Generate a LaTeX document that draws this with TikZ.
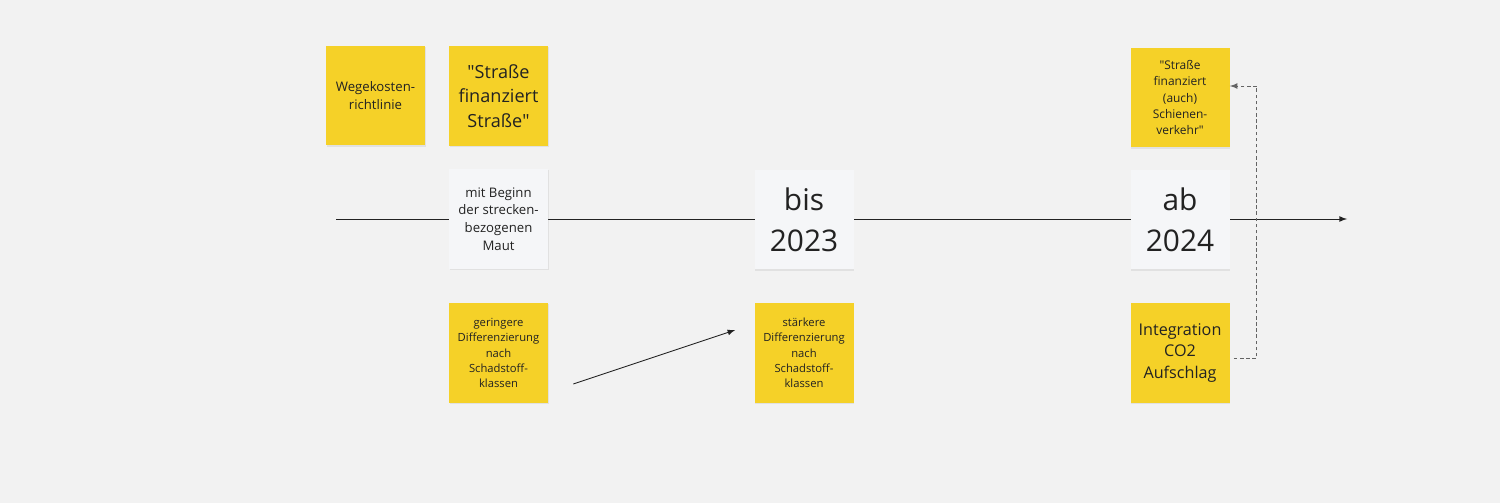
\documentclass[tikz,border=0pt]{standalone}
\usepackage{fontspec}
\setmainfont{Open Sans}
\usetikzlibrary{shadows}

\definecolor{board}{HTML}{F2F2F2}
\definecolor{sticky}{HTML}{F5D128}
\definecolor{card}{HTML}{F5F6F8}
\definecolor{ink}{HTML}{222222}

\begin{document}
\begin{tikzpicture}[x=0.02cm,y=-0.02cm,
  note/.style={fill=sticky,minimum width=1.98cm,minimum height=2cm,inner sep=0pt,
    align=center,text=ink,drop shadow={shadow xshift=0.4pt,shadow yshift=-0.6pt,opacity=0.15}},
  datecard/.style={note,fill=card},
  flow/.style={draw=ink,line width=0.5pt,-latex},
  dashlink/.style={draw=ink!70,line width=0.5pt,dashed,dash pattern=on 2pt off 1.5pt,-latex}]

\fill[board] (0,0) rectangle (1500,503);
\useasboundingbox (0,0) rectangle (1500,503);

% timeline
\coordinate (tstart) at (336,219);
\coordinate (tend) at (1347,219);
\draw[flow] (tstart) -- (tend);

% top row
\node[note,font=\fontsize{7.5}{10.2}\selectfont] (wege) at (375.5,95.5) {Wegekosten-\\richtlinie};
\node[note,font=\fontsize{10.3}{13.9}\selectfont] (strasse) at (498.5,96) {\textquotedbl Straße\\finanziert\\Straße\textquotedbl};
\node[note,font=\fontsize{6.8}{9.2}\selectfont] (schiene) at (1180,97.5) {\textquotedbl Straße\\finanziert\\(auch)\\Schienen-\\verkehr\textquotedbl};

% dates on the line
\node[datecard,font=\fontsize{7.5}{10}\selectfont] (beginn) at (498.5,219) {mit Beginn\\der strecken-\\bezogenen\\Maut};
\node[datecard,font=\fontsize{17}{23.2}\selectfont] (bis) at (804,219.5) {bis\\2023};
\node[datecard,font=\fontsize{17}{23.2}\selectfont] (ab) at (1180,219.5) {ab\\2024};

% bottom row
\node[note,font=\fontsize{6.4}{8.7}\selectfont] (gering) at (498.5,353) {geringere\\Differenzierung\\nach\\Schadstoff-\\klassen};
\node[note,font=\fontsize{6.4}{8.7}\selectfont] (staerker) at (804,353) {stärkere\\Differenzierung\\nach\\Schadstoff-\\klassen};
\node[note,font=\fontsize{9.2}{12.5}\selectfont] (integ) at (1180,353) {Integration\\CO2\\Aufschlag};

\draw[flow] ([xshift=0.5cm,yshift=-0.62cm]gering.east) -- ([xshift=-0.38cm,yshift=0.46cm]staerker.west);
\draw[dashlink] ([xshift=0.08cm,yshift=-0.1cm]integ.east) -- ++(23,0) |- ([yshift=0.23cm]schiene.east);
\end{tikzpicture}
\end{document}
